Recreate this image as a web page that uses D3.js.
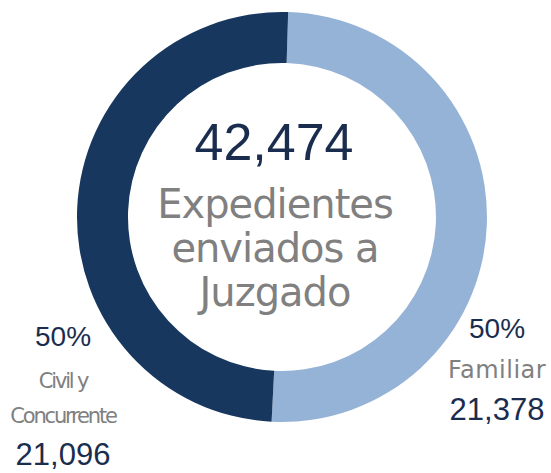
<!DOCTYPE html>
<html>
<head>
<meta charset="utf-8">
<script src="https://cdn.jsdelivr.net/npm/d3@7"></script>
<style>
  body { margin: 0; background: #fff; }
  svg text { font-family: "DejaVu Sans", sans-serif; }
  svg text.num { font-family: "Liberation Sans", Arial, sans-serif; }
</style>
</head>
<body>
<div id="chart"></div>
<script>
const width = 551;
const height = 473;

// datos
const categories = ["Familiar", "Civil y Concurrente"];
const values = [21378, 21096];
const colors = ["#95b3d7", "#17375e"];
const centerLines = ["Expedientes", "enviados a", "Juzgado"];

const total = d3.sum(values);
const fmtNum = d3.format(",");
const fmtPct = d3.format(".0%");

const cx = 282, cy = 217;
const outerR = 205, innerR = 154;

const svg = d3.select("#chart").append("svg")
  .attr("width", width)
  .attr("height", height);

const pie = d3.pie()
  .sort(null)
  .value(d => d)
  .startAngle(0.03)
  .endAngle(0.03 + 2 * Math.PI);

const arc = d3.arc()
  .innerRadius(innerR)
  .outerRadius(outerR);

const g = svg.append("g")
  .attr("transform", `translate(${cx},${cy})`);

g.selectAll("path.slice")
  .data(pie(values))
  .enter().append("path")
  .attr("class", "slice")
  .attr("d", arc)
  .attr("fill", (d, i) => colors[i]);

// texto central
g.append("text")
  .attr("class", "num")
  .attr("text-anchor", "middle")
  .attr("x", -8)
  .attr("y", -57)
  .attr("fill", "#1b2d4f")
  .style("font-size", "52px")
  .text(fmtNum(total));

g.selectAll("text.center-line")
  .data(centerLines)
  .enter().append("text")
  .attr("class", "center-line")
  .attr("text-anchor", "middle")
  .attr("x", -7)
  .attr("y", (d, i) => 1 + i * 44)
  .attr("fill", "#808080")
  .style("font-size", "40px")
  .style("letter-spacing", "-1px")
  .text(d => d);

// etiquetas
const labels = [
  { x: 497, y: 338, lines: ["Familiar"], lineY: [40], numY: 82, size: 24, spacing: 0.5 },
  { x: 63, y: 346, lines: ["Civil y", "Concurrente"], lineY: [42, 77], numY: 119, size: 21, spacing: -2.2 }
];

labels.forEach((l, i) => {
  const lg = svg.append("g").attr("transform", `translate(${l.x},${l.y})`);
  lg.append("text")
    .attr("class", "num")
    .attr("text-anchor", "middle")
    .attr("fill", "#1b2d4f")
    .style("font-size", "28px")
    .text(fmtPct(values[i] / total));
  l.lines.forEach((t, j) => {
    lg.append("text")
      .attr("text-anchor", "middle")
      .attr("y", l.lineY[j])
      .attr("fill", "#808080")
      .style("font-size", l.size + "px")
      .style("letter-spacing", l.spacing + "px")
      .text(t);
  });
  lg.append("text")
    .attr("class", "num")
    .attr("text-anchor", "middle")
    .attr("y", l.numY)
    .attr("fill", "#1b2d4f")
    .style("font-size", "31px")
    .text(fmtNum(values[i]));
});
</script>
</body>
</html>
